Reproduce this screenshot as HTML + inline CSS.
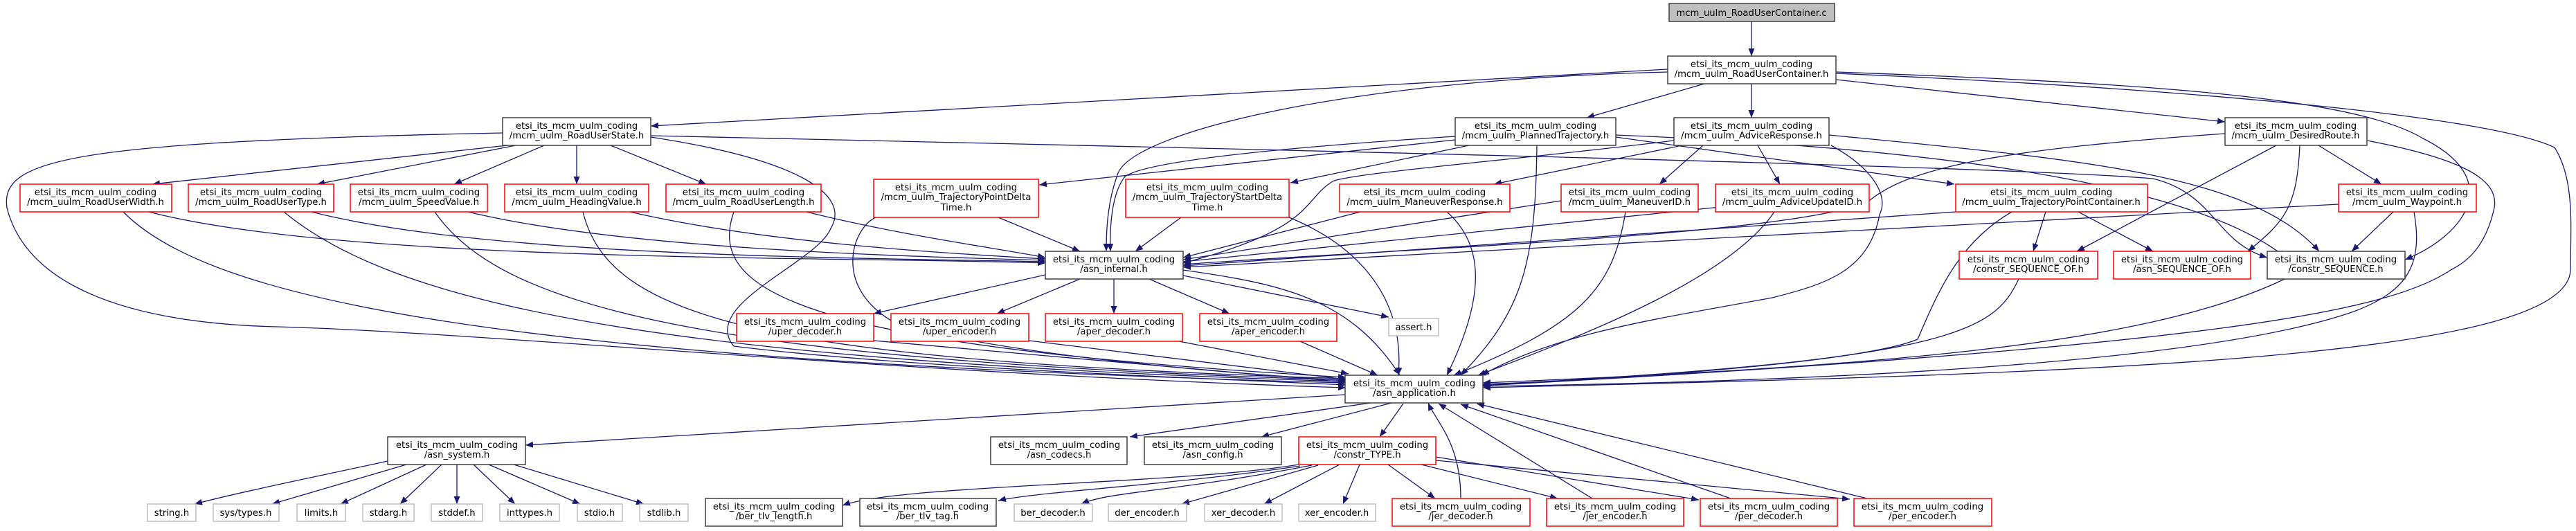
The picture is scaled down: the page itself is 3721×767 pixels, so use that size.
<!DOCTYPE html>
<html><head><meta charset="utf-8"><style>
html,body{margin:0;padding:0;background:#fff}
svg{display:block}
text{font-family:"DejaVu Sans","Liberation Sans",sans-serif;font-size:13.2px;fill:#000;text-anchor:middle}
.e{fill:none;stroke:#191970;stroke-width:1.3;marker-end:url(#a)}
.b{fill:#fff;stroke:#404040;stroke-width:1.5}
.r{fill:#fff;stroke:#ff0000;stroke-width:1.5}
.g{fill:#fff;stroke:#bfbfbf;stroke-width:1.5}
</style></head><body>
<svg width="3721" height="767" viewBox="0 0 3721 767" xmlns="http://www.w3.org/2000/svg">
<defs><marker id="a" markerUnits="userSpaceOnUse" markerWidth="12" markerHeight="10" refX="11" refY="4.5" orient="auto"><path d="M0,0 L11,4.5 L0,9 z" fill="#191970"/></marker></defs>
<g>
<path class="e" d="M2530 31 L2530 81"/>
<path class="e" d="M2409 100 L940 182"/>
<path class="e" d="M2462 121 L2292 170"/>
<path class="e" d="M2530 121 L2530 170"/>
<path class="e" d="M2652 115 L3214 176"/>
<path class="e" d="M2409 104 C1950 115 1640 190 1615 250 C1600 290 1598 330 1598 363"/>
<path class="e" d="M2652 104 C3100 120 3400 140 3500 200 C3620 260 3560 340 3474 375"/>
<path class="e" d="M2652 106 C3200 130 3600 170 3690 213 C3720 260 3713 330 3713 390 C3710 520 3000 540 2142 560"/>
<path class="e" d="M733 210 L220 266"/>
<path class="e" d="M745 210 L458 266"/>
<path class="e" d="M786 210 L656 266"/>
<path class="e" d="M833 210 L833 266"/>
<path class="e" d="M882 210 L1020 266"/>
<path class="e" d="M726 192 C100 205 0 230 10 300 C30 380 120 465 400 472 C700 480 1300 540 1944 560"/>
<path class="e" d="M940 196 C1800 215 2900 240 3110 258 C3200 280 3200 350 3275 372"/>
<path class="e" d="M940 198 C1150 230 1230 280 1200 330 C1180 380 1010 440 1060 500 C1300 530 1700 545 1944 556"/>
<path class="e" d="M178 306 C300 430 700 520 1944 553"/>
<path class="e" d="M215 306 C500 380 1200 370 1510 380"/>
<path class="e" d="M410 306 C560 430 900 520 1944 551"/>
<path class="e" d="M450 306 C700 370 1200 372 1510 378"/>
<path class="e" d="M628 306 C720 440 1000 520 1944 549"/>
<path class="e" d="M676 306 C900 360 1300 370 1510 376"/>
<path class="e" d="M842 306 C880 460 1100 520 1944 547"/>
<path class="e" d="M910 306 C1100 350 1350 365 1510 374"/>
<path class="e" d="M1060 306 C1020 420 1150 500 1944 545"/>
<path class="e" d="M1165 306 C1300 340 1450 360 1510 372"/>
<path class="e" d="M2102 202 L1501 267"/>
<path class="e" d="M2122 210 L1864 264"/>
<path class="e" d="M2102 197 C1900 210 1660 230 1625 255 C1605 280 1603 330 1604 363"/>
<path class="e" d="M2220 210 C2218 380 2200 450 2110 542"/>
<path class="e" d="M2334 198 L2823 266"/>
<path class="e" d="M2334 195 C2700 210 3150 250 3302 372"/>
<path class="e" d="M2430 210 L2158 266"/>
<path class="e" d="M2460 210 L2397 266"/>
<path class="e" d="M2539 210 L2571 266"/>
<path class="e" d="M2418 203 C2200 230 1950 250 1925 262 C1880 290 1900 330 1709 380"/>
<path class="e" d="M2645 210 C2700 240 2730 280 2715 310 C2700 390 2640 410 2560 430 C2400 460 2250 480 2140 542"/>
<path class="e" d="M2642 195 C3000 230 3250 250 3350 363"/>
<path class="e" d="M3349 210 L3440 266"/>
<path class="e" d="M3288 210 L3000 363"/>
<path class="e" d="M3322 210 C3318 300 3300 320 3247 363"/>
<path class="e" d="M3214 193 C2900 215 2760 240 2700 290 C2600 340 2000 360 1709 382"/>
<path class="e" d="M3419 203 C3560 230 3610 260 3603 300 C3590 360 3560 380 3540 390 C3450 450 3200 500 2142 557"/>
<path class="e" d="M2955 306 L2937 363"/>
<path class="e" d="M3002 306 L3110 363"/>
<path class="e" d="M2825 306 L1709 384"/>
<path class="e" d="M2906 306 C2830 350 2800 420 2770 490 C2700 520 2400 545 2142 555"/>
<path class="e" d="M3378 295 L1709 386"/>
<path class="e" d="M3457 306 L3397 363"/>
<path class="e" d="M3487 306 C3500 380 3480 420 3400 450 C3200 520 2700 550 2142 558"/>
<path class="e" d="M2916 403 C2880 480 2820 520 2142 556"/>
<path class="e" d="M3300 403 C3100 500 2700 530 2142 553"/>
<path class="e" d="M1442 314 L1560 363"/>
<path class="e" d="M1265 314 C1230 330 1200 420 1300 470 C1500 520 1800 540 1944 550"/>
<path class="e" d="M1706 314 L1640 363"/>
<path class="e" d="M1862 314 C1950 350 2030 420 2020 542"/>
<path class="e" d="M1965 306 L1709 372"/>
<path class="e" d="M2090 306 C2140 350 2150 420 2090 542"/>
<path class="e" d="M2255 290 L1709 375"/>
<path class="e" d="M2348 306 C2330 420 2280 470 2100 542"/>
<path class="e" d="M2505 297 L1709 378"/>
<path class="e" d="M2563 306 C2500 400 2300 480 2135 542"/>
<path class="e" d="M1510 397 L1262 453"/>
<path class="e" d="M1560 403 L1440 453"/>
<path class="e" d="M1609 403 L1609 453"/>
<path class="e" d="M1660 403 L1776 453"/>
<path class="e" d="M1709 398 L2006 458"/>
<path class="e" d="M1709 390 C1850 410 1950 430 2022 542"/>
<path class="e" d="M1262 492 L1944 552"/>
<path class="e" d="M1486 492 L1944 548"/>
<path class="e" d="M1703 493 L1948 540"/>
<path class="e" d="M1878 493 L1990 542"/>
<path class="e" d="M1944 570 L759 643"/>
<path class="e" d="M1980 582 L1632 631"/>
<path class="e" d="M2010 582 L1822 631"/>
<path class="e" d="M2027 583 L1993 631"/>
<path class="e" d="M560 666 C450 690 350 710 281 728"/>
<path class="e" d="M587 671 L393 728"/>
<path class="e" d="M616 671 L492 728"/>
<path class="e" d="M638 671 L578 728"/>
<path class="e" d="M660 671 L660 728"/>
<path class="e" d="M684 671 L744 728"/>
<path class="e" d="M706 671 L838 728"/>
<path class="e" d="M742 671 L930 728"/>
<path class="e" d="M1876 671 C1700 700 1300 700 1217 730"/>
<path class="e" d="M1878 673 C1700 700 1500 710 1442 723"/>
<path class="e" d="M1895 672 C1700 710 1600 710 1562 728"/>
<path class="e" d="M1904 672 L1707 728"/>
<path class="e" d="M1935 671 L1826 728"/>
<path class="e" d="M1964 671 L1940 728"/>
<path class="e" d="M2005 671 L2073 720"/>
<path class="e" d="M2053 671 L2250 720"/>
<path class="e" d="M2074 660 L2454 722"/>
<path class="e" d="M2074 665 L2672 721"/>
<path class="e" d="M2110 720 C2110 640 2075 610 2063 582"/>
<path class="e" d="M2300 720 L2078 583"/>
<path class="e" d="M2500 720 L2110 584"/>
<path class="e" d="M2697 720 L2133 583"/>
</g>
<g>
<rect x="2411" y="5" width="239" height="26" fill="#bfbfbf" stroke="#404040" stroke-width="1.5"/>
<text x="2530" y="23">mcm_uulm_RoadUserContainer.c</text>

<rect class="b" x="2409" y="81" width="243" height="40"/><text x="2530" y="97">etsi_its_mcm_uulm_coding</text><text x="2530" y="111">/mcm_uulm_RoadUserContainer.h</text>

<rect class="b" x="726" y="170" width="214" height="40"/><text x="833" y="186">etsi_its_mcm_uulm_coding</text><text x="833" y="200">/mcm_uulm_RoadUserState.h</text>
<rect class="b" x="2102" y="170" width="232" height="40"/><text x="2218" y="186">etsi_its_mcm_uulm_coding</text><text x="2218" y="200">/mcm_uulm_PlannedTrajectory.h</text>
<rect class="b" x="2418" y="170" width="224" height="40"/><text x="2530" y="186">etsi_its_mcm_uulm_coding</text><text x="2530" y="200">/mcm_uulm_AdviceResponse.h</text>
<rect class="b" x="3214" y="170" width="205" height="40"/><text x="3316" y="186">etsi_its_mcm_uulm_coding</text><text x="3316" y="200">/mcm_uulm_DesiredRoute.h</text>

<rect class="r" x="29" y="266" width="219" height="40"/><text x="138" y="282">etsi_its_mcm_uulm_coding</text><text x="138" y="296">/mcm_uulm_RoadUserWidth.h</text>
<rect class="r" x="272" y="266" width="210" height="40"/><text x="377" y="282">etsi_its_mcm_uulm_coding</text><text x="377" y="296">/mcm_uulm_RoadUserType.h</text>
<rect class="r" x="506" y="266" width="198" height="40"/><text x="605" y="282">etsi_its_mcm_uulm_coding</text><text x="605" y="296">/mcm_uulm_SpeedValue.h</text>
<rect class="r" x="729" y="266" width="208" height="40"/><text x="833" y="282">etsi_its_mcm_uulm_coding</text><text x="833" y="296">/mcm_uulm_HeadingValue.h</text>
<rect class="r" x="962" y="266" width="224" height="40"/><text x="1074" y="282">etsi_its_mcm_uulm_coding</text><text x="1074" y="296">/mcm_uulm_RoadUserLength.h</text>
<rect class="r" x="1262" y="259" width="238" height="55"/><text x="1381" y="275">etsi_its_mcm_uulm_coding</text><text x="1381" y="289">/mcm_uulm_TrajectoryPointDelta</text><text x="1381" y="304">Time.h</text>
<rect class="r" x="1626" y="259" width="236" height="55"/><text x="1744" y="275">etsi_its_mcm_uulm_coding</text><text x="1744" y="289">/mcm_uulm_TrajectoryStartDelta</text><text x="1744" y="304">Time.h</text>
<rect class="r" x="1935" y="266" width="246" height="40"/><text x="2058" y="282">etsi_its_mcm_uulm_coding</text><text x="2058" y="296">/mcm_uulm_ManeuverResponse.h</text>
<rect class="r" x="2255" y="266" width="198" height="40"/><text x="2354" y="282">etsi_its_mcm_uulm_coding</text><text x="2354" y="296">/mcm_uulm_ManeuverID.h</text>
<rect class="r" x="2478" y="266" width="222" height="40"/><text x="2589" y="282">etsi_its_mcm_uulm_coding</text><text x="2589" y="296">/mcm_uulm_AdviceUpdateID.h</text>
<rect class="r" x="2825" y="266" width="277" height="40"/><text x="2963" y="282">etsi_its_mcm_uulm_coding</text><text x="2963" y="296">/mcm_uulm_TrajectoryPointContainer.h</text>
<rect class="r" x="3378" y="266" width="199" height="40"/><text x="3477" y="282">etsi_its_mcm_uulm_coding</text><text x="3477" y="296">/mcm_uulm_Waypoint.h</text>

<rect class="b" x="1510" y="363" width="199" height="40"/><text x="1609" y="379">etsi_its_mcm_uulm_coding</text><text x="1609" y="393">/asn_internal.h</text>
<rect class="r" x="2830" y="363" width="200" height="40"/><text x="2930" y="379">etsi_its_mcm_uulm_coding</text><text x="2930" y="393">/constr_SEQUENCE_OF.h</text>
<rect class="r" x="3053" y="363" width="198" height="40"/><text x="3152" y="379">etsi_its_mcm_uulm_coding</text><text x="3152" y="393">/asn_SEQUENCE_OF.h</text>
<rect class="b" x="3275" y="363" width="199" height="40"/><text x="3374" y="379">etsi_its_mcm_uulm_coding</text><text x="3374" y="393">/constr_SEQUENCE.h</text>

<rect class="r" x="1064" y="453" width="198" height="40"/><text x="1163" y="469">etsi_its_mcm_uulm_coding</text><text x="1163" y="483">/uper_decoder.h</text>
<rect class="r" x="1287" y="453" width="199" height="40"/><text x="1386" y="469">etsi_its_mcm_uulm_coding</text><text x="1386" y="483">/uper_encoder.h</text>
<rect class="r" x="1510" y="453" width="198" height="40"/><text x="1609" y="469">etsi_its_mcm_uulm_coding</text><text x="1609" y="483">/aper_decoder.h</text>
<rect class="r" x="1733" y="453" width="198" height="40"/><text x="1832" y="469">etsi_its_mcm_uulm_coding</text><text x="1832" y="483">/aper_encoder.h</text>
<rect class="g" x="2006" y="460" width="72" height="25"/><text x="2042" y="477">assert.h</text>

<rect class="b" x="1943" y="542" width="199" height="40"/><text x="2043" y="558">etsi_its_mcm_uulm_coding</text><text x="2043" y="572">/asn_application.h</text>

<rect class="b" x="560" y="631" width="199" height="40"/><text x="660" y="647">etsi_its_mcm_uulm_coding</text><text x="660" y="661">/asn_system.h</text>
<rect class="b" x="1431" y="631" width="197" height="40"/><text x="1530" y="647">etsi_its_mcm_uulm_coding</text><text x="1530" y="661">/asn_codecs.h</text>
<rect class="b" x="1653" y="631" width="198" height="40"/><text x="1752" y="647">etsi_its_mcm_uulm_coding</text><text x="1752" y="661">/asn_config.h</text>
<rect class="r" x="1876" y="631" width="198" height="40"/><text x="1975" y="647">etsi_its_mcm_uulm_coding</text><text x="1975" y="661">/constr_TYPE.h</text>

<rect class="g" x="213" y="728" width="70" height="25"/><text x="248" y="745">string.h</text>
<rect class="g" x="308" y="728" width="95" height="25"/><text x="355" y="745">sys/types.h</text>
<rect class="g" x="429" y="728" width="70" height="25"/><text x="464" y="745">limits.h</text>
<rect class="g" x="524" y="728" width="74" height="25"/><text x="561" y="745">stdarg.h</text>
<rect class="g" x="623" y="728" width="74" height="25"/><text x="660" y="745">stddef.h</text>
<rect class="g" x="722" y="728" width="86" height="25"/><text x="765" y="745">inttypes.h</text>
<rect class="g" x="834" y="728" width="65" height="25"/><text x="866" y="745">stdio.h</text>
<rect class="g" x="924" y="728" width="70" height="25"/><text x="959" y="745">stdlib.h</text>

<rect class="b" x="1019" y="720" width="198" height="40"/><text x="1118" y="736">etsi_its_mcm_uulm_coding</text><text x="1118" y="750">/ber_tlv_length.h</text>
<rect class="b" x="1242" y="720" width="197" height="40"/><text x="1340" y="736">etsi_its_mcm_uulm_coding</text><text x="1340" y="750">/ber_tlv_tag.h</text>
<rect class="g" x="1465" y="728" width="113" height="25"/><text x="1521" y="745">ber_decoder.h</text>
<rect class="g" x="1601" y="728" width="113" height="25"/><text x="1657" y="745">der_encoder.h</text>
<rect class="g" x="1740" y="728" width="112" height="25"/><text x="1796" y="745">xer_decoder.h</text>
<rect class="g" x="1876" y="728" width="111" height="25"/><text x="1931" y="745">xer_encoder.h</text>
<rect class="r" x="2011" y="720" width="199" height="40"/><text x="2110" y="736">etsi_its_mcm_uulm_coding</text><text x="2110" y="750">/jer_decoder.h</text>
<rect class="r" x="2234" y="720" width="198" height="40"/><text x="2333" y="736">etsi_its_mcm_uulm_coding</text><text x="2333" y="750">/jer_encoder.h</text>
<rect class="r" x="2456" y="720" width="198" height="40"/><text x="2555" y="736">etsi_its_mcm_uulm_coding</text><text x="2555" y="750">/per_decoder.h</text>
<rect class="r" x="2678" y="720" width="199" height="40"/><text x="2777" y="736">etsi_its_mcm_uulm_coding</text><text x="2777" y="750">/per_encoder.h</text>
</g>
</svg>
</body></html>
